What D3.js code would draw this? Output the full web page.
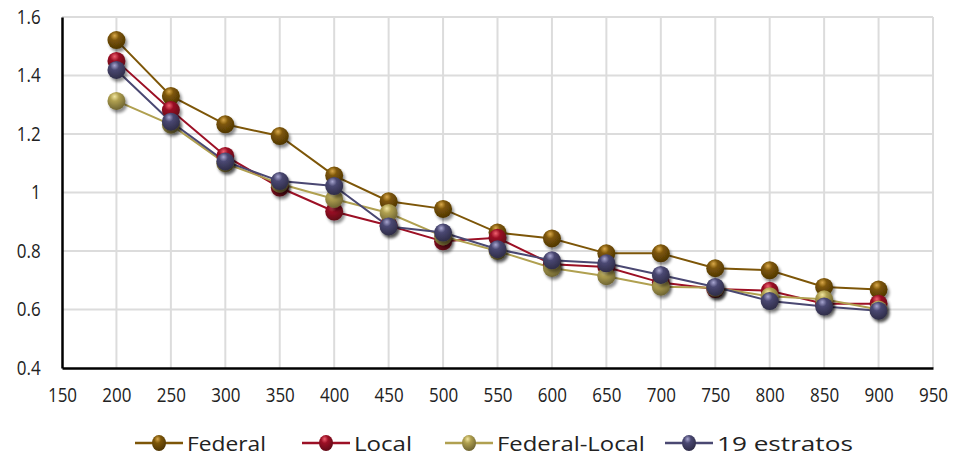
<!DOCTYPE html>
<html><head><meta charset="utf-8">
<script src="https://cdn.jsdelivr.net/npm/d3@7"></script>
<style>
body{margin:0;background:#fff;}
text{font-family:"Open Sans","DejaVu Sans",sans-serif;}
</style></head>
<body><svg id="c" width="954" height="457"></svg>
<script>
const xValues = [200,250,300,350,400,450,500,550,600,650,700,750,800,850,900];
const federal = [1.521,1.330,1.233,1.193,1.058,0.970,0.944,0.863,0.843,0.792,0.792,0.741,0.734,0.677,0.668];
const local = [1.450,1.282,1.125,1.017,0.935,0.887,0.833,0.845,0.755,0.745,0.692,0.670,0.664,0.620,0.620];
const federalLocal = [1.313,1.232,1.100,1.030,0.978,0.930,0.850,0.800,0.742,0.714,0.678,0.674,0.645,0.635,0.600];
const estratos19 = [1.419,1.242,1.106,1.039,1.022,0.884,0.863,0.806,0.768,0.758,0.718,0.677,0.629,0.610,0.596];
const seriesNames = ["Federal","Local","Federal-Local","19 estratos"];
const xTicks = [150,200,250,300,350,400,450,500,550,600,650,700,750,800,850,900,950];
const yTicks = [0.4,0.6,0.8,1,1.2,1.4,1.6];

const colors = ["#7d5608","#9c1025","#b0a050","#4a4872"];
const lights = ["#d9a84a","#f06070","#f2e6a0","#a8a6d0"];
const seriesData = [federal, local, federalLocal, estratos19];

const svg = d3.select("#c");
const x = d3.scaleLinear().domain([150,950]).range([62,933]);
const y = d3.scaleLinear().domain([0.4,1.6]).range([368,17]);

const defs = svg.append("defs");
colors.forEach((c,i)=>{
  const g = defs.append("radialGradient").attr("id","g"+i)
    .attr("cx","0.4").attr("cy","0.3").attr("r","0.7").attr("fx","0.4").attr("fy","0.25");
  g.append("stop").attr("offset","0").attr("stop-color",lights[i]);
  g.append("stop").attr("offset","0.35").attr("stop-color",c);
  g.append("stop").attr("offset","1").attr("stop-color",d3.color(c).darker(1.3));
});
const f = defs.append("filter").attr("id","sh").attr("x","-50%").attr("y","-50%").attr("width","200%").attr("height","200%");
f.append("feGaussianBlur").attr("in","SourceAlpha").attr("stdDeviation",1.8);
f.append("feOffset").attr("dx",2).attr("dy",3).attr("result","ob");
f.append("feComponentTransfer").append("feFuncA").attr("type","linear").attr("slope",0.45);
const m = f.append("feMerge"); m.append("feMergeNode"); m.append("feMergeNode").attr("in","SourceGraphic");

// grid
svg.append("g").selectAll("line").data(xTicks.slice(1)).join("line")
  .attr("x1",d=>x(d)).attr("x2",d=>x(d)).attr("y1",y(1.6)).attr("y2",y(0.4))
  .attr("stroke","#dcdcdc").attr("stroke-width",2);
svg.append("g").selectAll("line").data(yTicks.slice(1)).join("line")
  .attr("x1",x(150)).attr("x2",x(950)).attr("y1",d=>y(d)).attr("y2",d=>y(d))
  .attr("stroke","#dcdcdc").attr("stroke-width",2);

// axes
const sx = 0.85;
const xa = svg.append("g").attr("transform",`translate(0,${y(0.4)})`)
  .call(d3.axisBottom(x).tickValues(xTicks).tickSize(0).tickPadding(22).tickFormat(d3.format("d")));
const ya = svg.append("g").attr("transform",`translate(${x(150)},0)`)
  .call(d3.axisLeft(y).tickValues(yTicks).tickSize(0).tickPadding(25).tickFormat(d=>String(d)));
[xa,ya].forEach(a=>{
  a.select(".domain").attr("stroke","#000").attr("stroke-width",2.5);
  a.selectAll("text").attr("font-size",20).attr("fill","#222")
    .attr("font-family","'Open Sans',sans-serif").attr("transform",`scale(${sx},1)`);
});
xa.selectAll("text").attr("dy","0.6em");

// lines & markers
const line = d3.line().x((d,i)=>x(xValues[i])).y(d=>y(d));
seriesData.forEach((data,i)=>{
  svg.append("path").datum(data).attr("d",line).attr("fill","none")
    .attr("stroke",colors[i]).attr("stroke-width",2);
});
seriesData.forEach((data,i)=>{
  svg.append("g").attr("filter","url(#sh)").selectAll("circle").data(data).join("circle")
    .attr("cx",(d,j)=>x(xValues[j])).attr("cy",d=>y(d)).attr("r",9)
    .attr("fill",`url(#g${i})`);
});

// legend
const legX = [135,302,445,665];
const legW = [79,58,148,136];
const lg = svg.append("g");
seriesNames.forEach((n,i)=>{
  const g = lg.append("g").attr("transform",`translate(${legX[i]},443)`);
  g.append("line").attr("x1",0).attr("x2",48).attr("stroke",colors[i]).attr("stroke-width",2.5);
  g.append("ellipse").attr("cx",24).attr("cy",0).attr("rx",7).attr("ry",8).attr("fill",`url(#g${i})`);
  const t = g.append("text").attr("x",0).attr("y",1).attr("dy","0.35em").attr("font-size",20).attr("fill","#222").text(n);
  const w = t.node().getComputedTextLength();
  const k = legW[i]/w;
  t.attr("transform",`translate(52,0) scale(${k},1)`);
});
</script></body></html>
